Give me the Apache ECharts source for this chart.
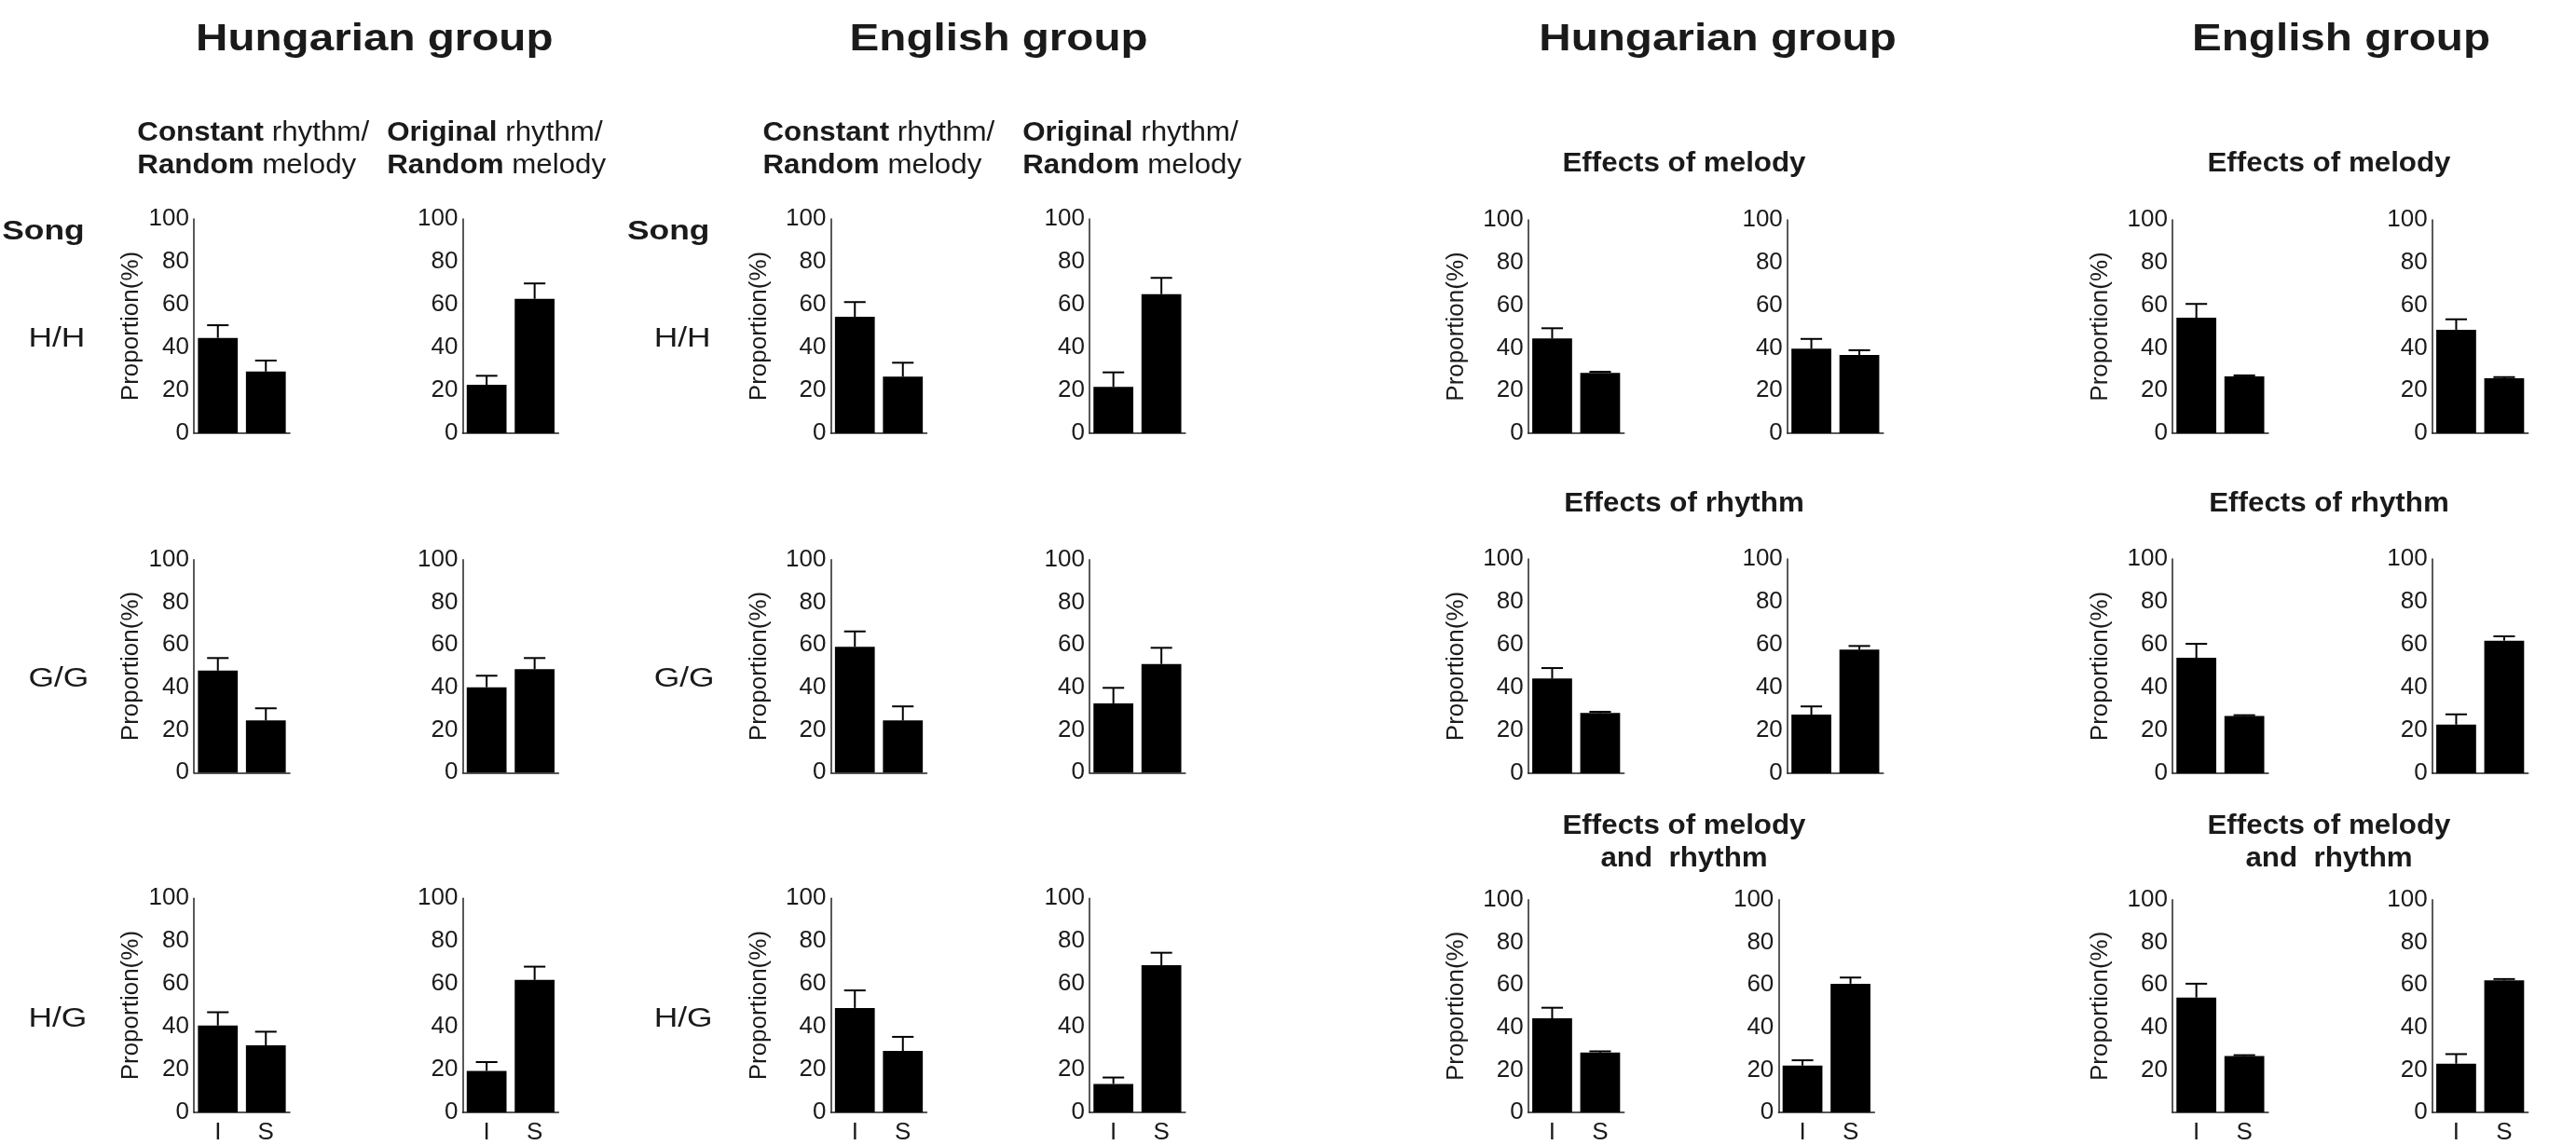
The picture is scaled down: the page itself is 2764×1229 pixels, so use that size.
<!DOCTYPE html>
<html>
<head>
<meta charset="utf-8">
<script src="https://cdn.jsdelivr.net/npm/echarts@6/dist/echarts.min.js"></script>
<style>
  html, body { margin: 0; padding: 0; background: #fff; }
  #chart { width: 2764px; height: 1229px; }
</style>
</head>
<body>
<div id="chart"></div>
<script>
// ---------------- DATA ----------------
const categories = ['I', 'S'];
const songs = ['H/H', 'G/G', 'H/G'];
const groupTitles = ['Hungarian group', 'English group', 'Hungarian group', 'English group'];
const effectTitles = ['Effects of melody', 'Effects of rhythm', 'Effects of melody\nand  rhythm'];
const yMin = 0, yMax = 100, yStep = 20;
const yAxisName = 'Proportion(%)';

// rows: H/H, G/G, H/G ; values: [I, S]
const hunConstantMean = [[44.5, 28.8], [47.9, 24.5], [40.6, 31.3]];
const hunConstantErr  = [[5.9, 5.1], [5.9, 5.7], [6.2, 6.4]];
const hunOriginalMean = [[22.6, 62.7], [40.1, 48.6], [19.4, 61.9]];
const hunOriginalErr  = [[4.2, 7.2], [5.4, 5.2], [4.1, 6.2]];
const engConstantMean = [[54.3, 26.4], [59.1, 24.5], [48.8, 28.7]];
const engConstantErr  = [[6.9, 6.5], [7.2, 6.6], [8.2, 6.6]];
const engOriginalMean = [[21.6, 64.9], [32.5, 51.0], [13.3, 68.8]];
const engOriginalErr  = [[6.8, 7.6], [7.3, 7.6], [3.0, 5.8]];

// rows: melody, rhythm, melody and rhythm
const hunEffectLeftMean  = [[44.4, 28.3], [44.2, 28.1], [44.2, 28.1]];
const hunEffectLeftErr   = [[4.8, 0.5], [4.9, 0.6], [5.0, 0.6]];
const hunEffectRightMean = [[39.6, 36.7], [27.4, 57.7], [22.0, 60.5]];
const hunEffectRightErr  = [[4.6, 2.2], [3.8, 1.7], [2.5, 2.9]];
const engEffectLeftMean  = [[54.1, 26.6], [53.9, 26.7], [54.0, 26.5]];
const engEffectLeftErr   = [[6.5, 0.5], [6.5, 0.4], [6.5, 0.4]];
const engEffectRightMean = [[48.5, 25.8], [22.7, 61.9], [22.9, 62.1]];
const engEffectRightErr  = [[4.9, 0.5], [4.8, 2.0], [4.5, 0.6]];

// ---------------- LAYOUT ----------------
const FONT = '"Liberation Sans", Arial, Helvetica, sans-serif';
const TXT = '#1a1a1a';
const columns = [
  { mean: hunConstantMean, err: hunConstantErr, left: 208.0, yName: true, nameGap: 54 },
  { mean: hunOriginalMean, err: hunOriginalErr, left: 496.4 },
  { mean: engConstantMean, err: engConstantErr, left: 891.5, yName: true, nameGap: 64 },
  { mean: engOriginalMean, err: engOriginalErr, left: 1168.9 },
  { mean: hunEffectLeftMean, err: hunEffectLeftErr, left: 1639.7, yName: true, nameGap: 64, right: true },
  { mean: hunEffectRightMean, err: hunEffectRightErr, left: 1917.8, right: true, leftRow3: 1908.3 },
  { mean: engEffectLeftMean, err: engEffectLeftErr, left: 2330.9, yName: true, nameGap: 64, right: true, hideZeroRow3: true },
  { mean: engEffectRightMean, err: engEffectRightErr, left: 2609.7, right: true }
];
const plotWidth = 103;
const rowsLeftSide  = [{ top: 235, h: 230 }, { top: 600.7, h: 228.6 }, { top: 964.3, h: 230 }];
const rowsRightSide = [{ top: 236, h: 229 }, { top: 600, h: 230 }, { top: 965.7, h: 228.6 }];

const grids = [], xAxes = [], yAxes = [], series = [];
let gi = 0;
columns.forEach((col, ci) => {
  for (let r = 0; r < 3; r++) {
    const rowL = col.right ? rowsRightSide[r] : rowsLeftSide[r];
    const left = (r === 2 && col.leftRow3) ? col.leftRow3 : col.left;
    grids.push({ left: left, top: rowL.top, width: plotWidth, height: rowL.h, containLabel: false });
    xAxes.push({
      type: 'category', gridIndex: gi, data: categories,
      axisLine: { show: true, lineStyle: { color: '#222', width: 1.5 } },
      axisTick: { show: false },
      axisLabel: { show: r === 2, fontSize: 26, fontFamily: FONT, color: TXT, margin: 9 },
      splitLine: { show: false }
    });
    const hideZero = (r === 2 && col.hideZeroRow3);
    yAxes.push({
      type: 'value', gridIndex: gi, min: yMin, max: yMax, interval: yStep,
      axisLine: { show: true, lineStyle: { color: '#222', width: 1.5 } },
      axisTick: { show: false },
      splitLine: { show: false },
      axisLabel: {
        fontSize: 26, fontFamily: FONT, color: TXT, margin: 5,
        formatter: v => (hideZero && v === 0) ? '' : String(v)
      },
      name: col.yName ? yAxisName : '',
      nameLocation: 'middle', nameRotate: 90, nameGap: col.nameGap || 50,
      nameTextStyle: { fontSize: 26, fontFamily: FONT, color: TXT }
    });
    const means = col.mean[r], errs = col.err[r];
    series.push({
      type: 'bar', xAxisIndex: gi, yAxisIndex: gi,
      data: means, barWidth: '83%',
      itemStyle: { color: '#000' }, silent: true, animation: false
    });
    series.push({
      type: 'custom', xAxisIndex: gi, yAxisIndex: gi,
      data: means.map((m, i) => [i, m, errs[i]]),
      encode: { x: 0, y: 1 },
      silent: true, animation: false, z: 3,
      renderItem: function (params, api) {
        const x = api.value(0), m = api.value(1), e = api.value(2);
        const base = api.coord([x, m]);
        const top = api.coord([x, m + e]);
        const bw = api.size([1, 0])[0] * 0.83;
        const half = bw * 0.27;
        const st = { stroke: '#000', lineWidth: 2 };
        return {
          type: 'group', children: [
            { type: 'line', shape: { x1: base[0], y1: base[1], x2: top[0], y2: top[1] }, style: st },
            { type: 'line', shape: { x1: top[0] - half, y1: top[1], x2: top[0] + half, y2: top[1] }, style: st }
          ]
        };
      }
    });
    gi++;
  }
});

// ---------------- TEXT (graphic) ----------------
const graphics = [];
function addText(text, x, y, opt) {
  graphics.push({
    type: 'text', x: x, y: y, scaleX: opt.scaleX || 1, silent: true,
    style: {
      text: text, fill: TXT, fontFamily: FONT,
      fontSize: opt.size, fontWeight: opt.bold ? 'bold' : 'normal',
      align: opt.align || 'center', verticalAlign: 'middle',
      lineHeight: opt.lineHeight, rich: opt.rich
    }
  });
}
const groupTitleX = [401.8, 1071.6, 1843, 2512];
groupTitles.forEach((t, i) => addText(t, groupTitleX[i], 42.5, { size: 40, bold: true, scaleX: 1.19 }));

const richB = { b: { fontWeight: 'bold', fontSize: 29, fontFamily: FONT, fill: TXT } };
const headerX = [147.3, 415.2, 818.4, 1097.2];
const headerLine1 = ['{b|Constant} rhythm/', '{b|Original} rhythm/'];
const headerLine2 = '{b|Random} melody';
headerX.forEach((x, i) => {
  addText(headerLine1[i % 2], x, 143, { size: 29, align: 'left', scaleX: 1.08, rich: richB });
  addText(headerLine2, x, 178.3, { size: 29, align: 'left', scaleX: 1.08, rich: richB });
});

const songX = [2.2, 673];
const rowLabelX = [30.4, 701.7];
const rowLabelY = [364, 728.5, 1094];
songX.forEach((x, i) => {
  addText('Song', x, 249, { size: 30, bold: true, align: 'left', scaleX: 1.18 });
  songs.forEach((s, r) => addText(s, rowLabelX[i], rowLabelY[r], { size: 30, align: 'left', scaleX: 1.18 }));
});

const effectX = [1807, 2499];
const effectY = [175.5, 541, 904.2];
effectX.forEach(x => {
  effectTitles.forEach((t, r) => addText(t, x, effectY[r], { size: 29, bold: true, scaleX: 1.08, lineHeight: 35 }));
});

// ---------------- CHART ----------------
const chart = echarts.init(document.getElementById('chart'), null, { renderer: 'canvas' });
chart.setOption({
  animation: false,
  backgroundColor: '#fff',
  grid: grids, xAxis: xAxes, yAxis: yAxes, series: series,
  graphic: graphics
});
</script>
</body>
</html>
